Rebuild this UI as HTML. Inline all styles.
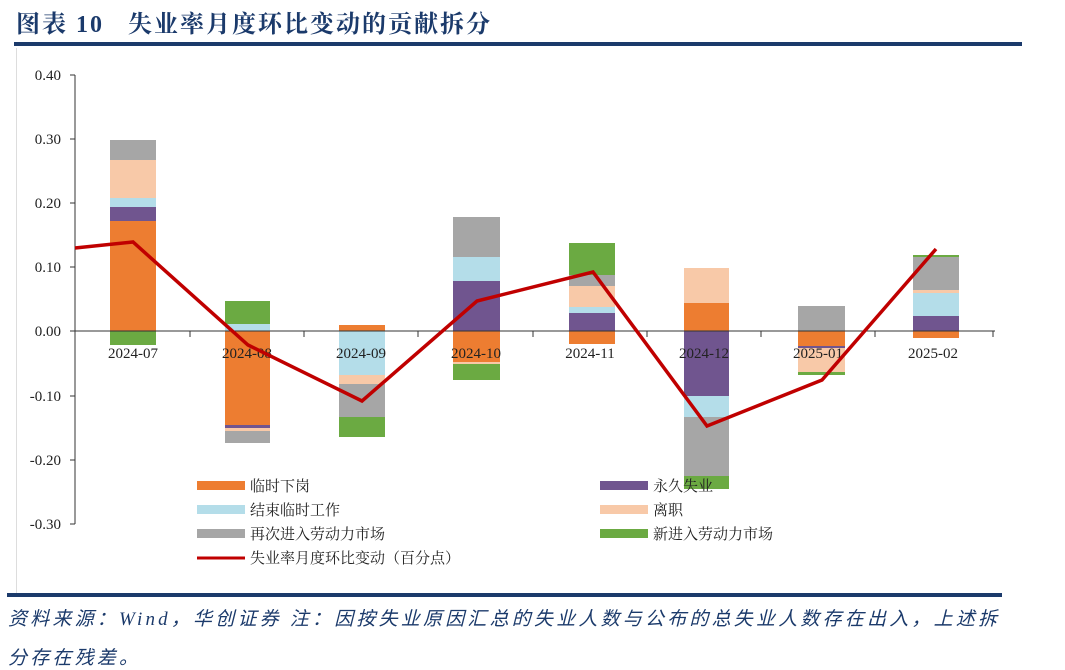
<!DOCTYPE html>
<html><head><meta charset="utf-8"><style>
body{margin:0;width:1065px;height:669px;background:#fff;overflow:hidden;position:relative;font-family:"Liberation Serif","Noto Serif CJK SC",serif}
.t{position:absolute;left:16px;top:4px;font-size:24px;font-weight:bold;color:#1b3a6b;font-family:"Liberation Serif","Noto Serif CJK SC",serif;letter-spacing:2px;white-space:nowrap}
.fn{position:absolute;left:8px;width:995px;overflow:hidden;white-space:nowrap;font-size:19px;font-style:italic;color:#1b3a6b;font-family:"Liberation Serif","Noto Sans CJK SC",serif;letter-spacing:3.2px}
</style></head><body>
<div class="t">图表 10&nbsp;&nbsp;&nbsp;失业率月度环比变动的贡献拆分</div>
<div style="position:absolute;left:14px;top:42px;width:1008px;height:4px;background:#1b3a6b"></div>
<div style="position:absolute;left:16px;top:48px;width:1px;height:545px;background:#ddd"></div>
<div style="position:absolute;left:7px;top:593px;width:995px;height:4px;background:#1b3a6b"></div>
<div class="fn" style="top:604px">资料来源：Wind，华创证券 注：因按失业原因汇总的失业人数与公布的总失业人数存在出入，上述拆</div>
<div class="fn" style="top:643px">分存在残差。</div>
<svg width="1065" height="669" style="position:absolute;left:0;top:0" font-family="Liberation Serif, serif">
<g font-size="15" fill="#222" text-anchor="end">
<text x="61" y="80">0.40</text><text x="61" y="144">0.30</text><text x="61" y="208">0.20</text><text x="61" y="272">0.10</text><text x="61" y="336">0.00</text><text x="61" y="401">-0.10</text><text x="61" y="465">-0.20</text><text x="61" y="529">-0.30</text>
</g>
<g fill="#ED7D31">
<rect x="110" y="221" width="46" height="110"/><rect x="225" y="331" width="45" height="94"/><rect x="339" y="325" width="46" height="6"/><rect x="453" y="331" width="47" height="31"/><rect x="569" y="331" width="46" height="13"/><rect x="684" y="303" width="45" height="28"/><rect x="798" y="331" width="47" height="15"/><rect x="913" y="331" width="46" height="7"/>
</g>
<g fill="#70558F">
<rect x="110" y="207" width="46" height="14"/><rect x="225" y="425" width="45" height="3"/><rect x="453" y="281" width="47" height="50"/><rect x="569" y="313" width="46" height="18"/><rect x="684" y="331" width="45" height="65"/><rect x="798" y="346" width="47" height="2"/><rect x="913" y="316" width="46" height="15"/>
</g>
<g fill="#B4DDE9">
<rect x="110" y="198" width="46" height="9"/><rect x="225" y="324" width="45" height="7"/><rect x="339" y="331" width="46" height="44"/><rect x="453" y="257" width="47" height="24"/><rect x="569" y="307" width="46" height="6"/><rect x="684" y="396" width="45" height="21"/><rect x="913" y="293" width="46" height="23"/>
</g>
<g fill="#F8C9A8">
<rect x="110" y="160" width="46" height="38"/><rect x="225" y="428" width="45" height="3"/><rect x="339" y="375" width="46" height="9"/><rect x="453" y="362" width="47" height="2"/><rect x="569" y="286" width="46" height="21"/><rect x="684" y="268" width="45" height="35"/><rect x="798" y="348" width="47" height="24"/><rect x="913" y="290" width="46" height="3"/>
</g>
<g fill="#A6A6A6">
<rect x="110" y="140" width="46" height="20"/><rect x="225" y="431" width="45" height="12"/><rect x="339" y="384" width="46" height="33"/><rect x="453" y="217" width="47" height="40"/><rect x="569" y="275" width="46" height="11"/><rect x="684" y="417" width="45" height="59"/><rect x="798" y="306" width="47" height="25"/><rect x="913" y="256" width="46" height="34"/>
</g>
<g fill="#6BAA42">
<rect x="110" y="331" width="46" height="14"/><rect x="225" y="301" width="45" height="23"/><rect x="339" y="417" width="46" height="20"/><rect x="453" y="364" width="47" height="16"/><rect x="569" y="243" width="46" height="32"/><rect x="684" y="476" width="45" height="13"/><rect x="798" y="372" width="47" height="3"/><rect x="913" y="255" width="46" height="2"/>
</g>
<g stroke="#333" stroke-width="1">
<line x1="75" y1="75" x2="75" y2="524"/>
<line x1="70" y1="75" x2="75" y2="75"/><line x1="70" y1="139" x2="75" y2="139"/><line x1="70" y1="203" x2="75" y2="203"/><line x1="70" y1="267" x2="75" y2="267"/><line x1="70" y1="331" x2="75" y2="331"/><line x1="70" y1="396" x2="75" y2="396"/><line x1="70" y1="460" x2="75" y2="460"/><line x1="70" y1="524" x2="75" y2="524"/>
<line x1="75" y1="331" x2="995" y2="331"/>
<line x1="190" y1="331" x2="190" y2="337"/><line x1="304" y1="331" x2="304" y2="337"/><line x1="418" y1="331" x2="418" y2="337"/><line x1="533" y1="331" x2="533" y2="337"/><line x1="647" y1="331" x2="647" y2="337"/><line x1="761" y1="331" x2="761" y2="337"/><line x1="875" y1="331" x2="875" y2="337"/><line x1="993" y1="331" x2="993" y2="337"/>
</g>
<g font-size="15" fill="#222" text-anchor="middle">
<text x="133" y="358">2024-07</text><text x="247" y="358">2024-08</text><text x="361" y="358">2024-09</text><text x="476" y="358">2024-10</text><text x="590" y="358">2024-11</text><text x="704" y="358">2024-12</text><text x="818" y="358">2025-01</text><text x="933" y="358">2025-02</text>
</g>
<polyline points="75,248 133,242 248,345 362,401 477,301 593,272 707,426 822,380 936,249" fill="none" stroke="#C00000" stroke-width="3.5" stroke-linejoin="miter"/>
<g font-size="15" fill="#222" font-family="Liberation Serif, Noto Serif CJK SC, serif">
<rect x="197" y="481" width="48" height="9" fill="#ED7D31"/><text x="250" y="491">临时下岗</text>
<rect x="600" y="481" width="48" height="9" fill="#70558F"/><text x="653" y="491">永久失业</text>
<rect x="197" y="505" width="48" height="9" fill="#B4DDE9"/><text x="250" y="515">结束临时工作</text>
<rect x="600" y="505" width="48" height="9" fill="#F8C9A8"/><text x="653" y="515">离职</text>
<rect x="197" y="529" width="48" height="9" fill="#A6A6A6"/><text x="250" y="539">再次进入劳动力市场</text>
<rect x="600" y="529" width="48" height="9" fill="#6BAA42"/><text x="653" y="539">新进入劳动力市场</text>
<line x1="197" y1="558" x2="245" y2="558" stroke="#C00000" stroke-width="3"/><text x="250" y="563">失业率月度环比变动（百分点）</text>
</g>
</svg>
</body></html>
